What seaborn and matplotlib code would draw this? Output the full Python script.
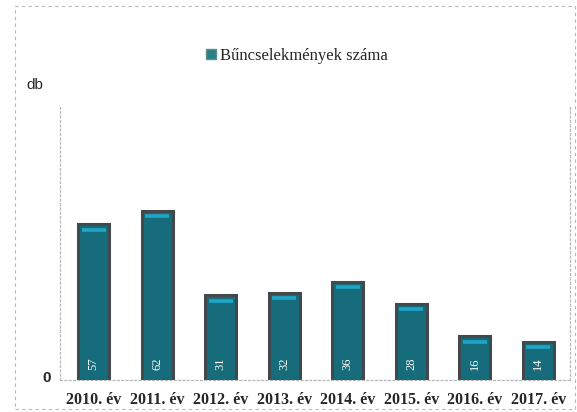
import numpy as np
import pandas as pd
import matplotlib.pyplot as plt
import seaborn as sns
from matplotlib.patches import Rectangle

# ========================
# DATA
# ========================
years = ["2010. év", "2011. év", "2012. év", "2013. év",
         "2014. év", "2015. év", "2016. év", "2017. év"]
counts = [57, 62, 31, 32, 36, 28, 16, 14]
series_name = "Bűncselekmények száma"

df = pd.DataFrame({"ev": years, "db": counts})

# ========================
# FIGURE
# ========================
sns.set_style("white")
plt.rcParams['font.family'] = ['Liberation Serif', 'DejaVu Serif']

fig = plt.figure(figsize=(5.77, 4.12), dpi=100)
ax = fig.add_axes([60 / 577, 1 - 380 / 412, 510 / 577, 273 / 412])

bar_face = "#166c7a"
bar_edge = "#41494c"
sns.barplot(data=df, x="ev", y="db", ax=ax, width=0.49,
            color=bar_face, edgecolor=bar_edge, linewidth=2.2,
            saturation=1, label=series_name)

# light highlight near the top of each bar
pos = np.arange(len(counts))
ax.hlines(np.array(counts) - 2.0, pos - 0.19, pos + 0.19,
          color="#1fa6c6", lw=2.6)

# rotated value labels at the bottom of bars
for i, v in enumerate(counts):
    ax.text(i, 5.8, str(v), rotation=90, ha="center", va="center",
            color="white", fontsize=9)

ax.set_xlim(-0.53, 7.5)
ax.set_ylim(0, 100)
ax.set_xlabel("")
ax.set_ylabel("")
ax.set_yticks([])
ax.tick_params(axis="x", length=0, pad=9)
for lbl in ax.get_xticklabels():
    lbl.set_fontweight("bold")
    lbl.set_fontsize(11.5)

ax.spines["top"].set_visible(False)
for side in ["left", "bottom", "right"]:
    ax.spines[side].set_color("#b8b8b8")
    ax.spines[side].set_linestyle((0, (1.5, 2)))
    ax.spines[side].set_linewidth(0.9)

# axis annotations
fig.text(26 / 577, 1 - 85 / 412, "db", fontsize=11, va="center",
         family=["Liberation Sans", "DejaVu Sans"])
fig.text(42 / 577, 1 - 378 / 412, "0", fontsize=11, va="center",
         fontweight="bold", family=["Liberation Sans", "DejaVu Sans"])

# legend
leg = ax.legend(loc="center", bbox_to_anchor=(297 / 577, 1 - 56 / 412),
                bbox_transform=fig.transFigure, frameon=False,
                fontsize=12, handlelength=0.6, handleheight=0.6,
                handletextpad=0.2)
for h in leg.legend_handles:
    h.set_edgecolor("#5d8f8f")
    h.set_facecolor("#2a7f86")
    h.set_linewidth(1.0)

# dashed outer frame
fig.patches.append(Rectangle((15 / 577, 1 - 409 / 412), 560 / 577, 403 / 412,
                             transform=fig.transFigure, fill=False,
                             edgecolor="#b0b8c0", linestyle=(0, (3, 3)),
                             linewidth=0.8))

plt.savefig("out.png", dpi=100)
